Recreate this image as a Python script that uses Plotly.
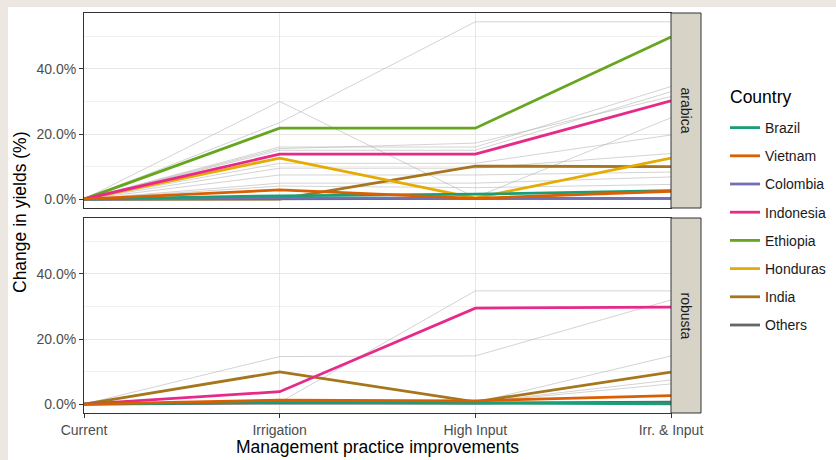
import plotly.graph_objects as go

stages = ["Current", "Irrigation", "High Input", "Irr. & Input"]
countries = ["Brazil", "Vietnam", "Colombia", "Indonesia", "Ethiopia", "Honduras", "India", "Others"]
colors = ["#1B9E77", "#D95F02", "#7570B3", "#E7298A", "#66A61E", "#E6AB02", "#A6761D", "#666666"]
y_ticks = [0, 20, 40]
y_tick_labels = ["0.0%", "20.0%", "40.0%"]

# arabica panel (change in yields, %)
arabica_brazil = [0, 1.0, 1.5, 2.6]
arabica_vietnam = [0, 2.8, 0.2, 2.4]
arabica_colombia = [0, 0.3, 0.2, 0.2]
arabica_indonesia = [0, 13.8, 13.8, 30.2]
arabica_ethiopia = [0, 21.8, 21.8, 49.8]
arabica_honduras = [0, 12.6, 0.3, 12.6]
arabica_india = [0, 0.0, 10.1, 10.0]
arabica_others = [0, 0.2, 0.2, 0.2]
arabica_background = [
    [0, 23.5, 54.5, 54.5],
    [0, 30.0, 0.5, 25.0],
    [0, 16.0, 16.0, 34.6],
    [0, 15.0, 15.0, 33.0],
    [0, 15.5, 17.2, 31.5],
    [0, 11.0, 11.0, 19.7],
    [0, 9.5, 9.5, 14.0],
    [0, 7.4, 7.4, 8.3],
    [0, 4.9, 4.9, 6.8],
    [0, 4.0, 3.5, 4.5],
]

# robusta panel (change in yields, %)
robusta_brazil = [0, 0.6, 0.3, 0.1]
robusta_vietnam = [0, 1.2, 1.0, 2.6]
robusta_colombia = [0, 0.2, 0.2, 0.2]
robusta_indonesia = [0, 3.8, 29.5, 29.8]
robusta_ethiopia = [0, 0.2, 0.2, 0.2]
robusta_honduras = [0, 0.2, 0.2, 0.2]
robusta_india = [0, 9.9, 0.7, 9.8]
robusta_others = [0, 0.3, 0.3, 0.6]
robusta_background = [
    [0, 14.6, 14.8, 32.0],
    [0, 0.5, 34.8, 34.8],
    [0, 1.0, 0.5, 14.8],
    [0, 1.0, 0.5, 7.4],
    [0, 0.8, 0.5, 6.2],
]

panels = ["arabica", "robusta"]
panel_values = {
    "arabica": dict(zip(countries, [arabica_brazil, arabica_vietnam, arabica_colombia, arabica_indonesia,
                                    arabica_ethiopia, arabica_honduras, arabica_india, arabica_others])),
    "robusta": dict(zip(countries, [robusta_brazil, robusta_vietnam, robusta_colombia, robusta_indonesia,
                                    robusta_ethiopia, robusta_honduras, robusta_india, robusta_others])),
}
panel_background = {"arabica": arabica_background, "robusta": robusta_background}
present = {"arabica": countries, "robusta": ["Brazil", "Vietnam", "Indonesia", "India", "Others"]}

draw_order = ["India", "Honduras", "Ethiopia", "Indonesia", "Others", "Colombia", "Brazil", "Vietnam"]
color_of = dict(zip(countries, colors))

W, H = 836, 460
L, R, T, B = 84, 135, 13, 47
pw, ph = W - L - R, H - T - B
xdom = (671 - L) / pw
strip_r = (701 - L) / pw
top_dom = [(413 - 208) / ph, 1.0]
bot_dom = [0.0, (413 - 218) / ph]

fig = go.Figure()
axes = {"arabica": ("x", "y"), "robusta": ("x2", "y2")}

for p in panels:
    xa, ya = axes[p]
    for vals in panel_background[p]:
        fig.add_trace(go.Scatter(x=stages, y=vals, mode="lines", xaxis=xa, yaxis=ya,
                                 line=dict(color="rgba(175,175,175,0.55)", width=1),
                                 showlegend=False, hoverinfo="skip"))
    for c in draw_order:
        if c not in present[p]:
            continue
        fig.add_trace(go.Scatter(x=stages, y=panel_values[p][c], mode="lines", xaxis=xa, yaxis=ya,
                                 name=c, legendgroup=c, legendrank=countries.index(c) + 1,
                                 line=dict(color=color_of[c], width=2.8),
                                 showlegend=(p == "arabica")))

grid_major = "#e8e6e0"
grid_minor = "#f2f1ed"
tick_font = dict(family="Liberation Sans, Arial, sans-serif", size=14, color="#4d4d4d")

xcommon = dict(type="category", categoryorder="array", categoryarray=stages, range=[0, 3],
               showgrid=True, gridcolor=grid_major, gridwidth=1, zeroline=False,
               showline=True, mirror=True, linecolor="#333333", linewidth=1,
               tickfont=tick_font, domain=[0, xdom])
ycommon = dict(range=[-2.75, 57.2], tickmode="array", tickvals=y_ticks, ticktext=y_tick_labels,
               showgrid=True, gridcolor=grid_major, gridwidth=1, zeroline=False,
               minor=dict(tickvals=[10, 30, 50], showgrid=True, gridcolor=grid_minor, gridwidth=0.6, ticks=""),
               showline=True, mirror=True, linecolor="#333333", linewidth=1,
               ticks="outside", ticklen=4, tickcolor="#333333", tickwidth=1, tickfont=tick_font)

fig.update_layout(
    width=W, height=H,
    margin=dict(l=L, r=R, t=T, b=B, autoexpand=False),
    paper_bgcolor="#ece8e1", plot_bgcolor="white",
    font=dict(family="Liberation Sans, Arial, sans-serif", color="#000000"),
    xaxis=dict(xcommon, anchor="y", showticklabels=False, ticks=""),
    yaxis=dict(ycommon, domain=top_dom, anchor="x"),
    xaxis2=dict(xcommon, anchor="y2", matches="x", ticks="outside", ticklen=4,
                tickcolor="#333333", tickwidth=1),
    yaxis2=dict(ycommon, domain=bot_dom, anchor="x2", matches="y"),
    legend=dict(x=(725 - L) / pw, y=(413 - 112) / ph, xanchor="left", yanchor="top",
                bgcolor="rgba(0,0,0,0)", font=dict(size=14, color="#1a1a1a"),
                tracegroupgap=7, traceorder="grouped"),
    showlegend=True,
)

shapes = [
    dict(type="rect", xref="paper", yref="paper", x0=(8 - L) / pw, x1=1.4,
         y0=-0.3, y1=(413 - 7) / ph, fillcolor="white", line=dict(width=0), layer="below"),
]
annotations = []
for p, dom in zip(panels, [top_dom, bot_dom]):
    shapes.append(dict(type="rect", xref="paper", yref="paper", x0=xdom, x1=strip_r,
                       y0=dom[0], y1=dom[1], fillcolor="#d7d3c6",
                       line=dict(color="#333333", width=1)))
    annotations.append(dict(text=p, xref="paper", yref="paper", x=(xdom + strip_r) / 2,
                            y=(dom[0] + dom[1]) / 2, showarrow=False, textangle=90,
                            xanchor="center", yanchor="middle",
                            font=dict(size=14, color="#1a1a1a")))
annotations.append(dict(text="Country", xref="paper", yref="paper",
                        x=(728 - L) / pw, y=(413 - 97) / ph, showarrow=False,
                        xanchor="left", yanchor="middle", font=dict(size=17.5, color="#000000")))
annotations.append(dict(text="Change in yields (%)", xref="paper", yref="paper",
                        x=(20 - L) / pw, y=0.5, showarrow=False, textangle=-90,
                        xanchor="center", yanchor="middle", font=dict(size=17.5, color="#000000")))
annotations.append(dict(text="Management practice improvements", xref="paper", yref="paper",
                        x=(377.5 - L) / pw, y=(413 - 447) / ph, showarrow=False,
                        xanchor="center", yanchor="middle", font=dict(size=17.5, color="#000000")))
fig.update_layout(shapes=shapes, annotations=annotations)

fig.write_html("out.html", config={"displayModeBar": False},
               post_script="document.body.style.margin='0';document.body.style.overflow='hidden';")
